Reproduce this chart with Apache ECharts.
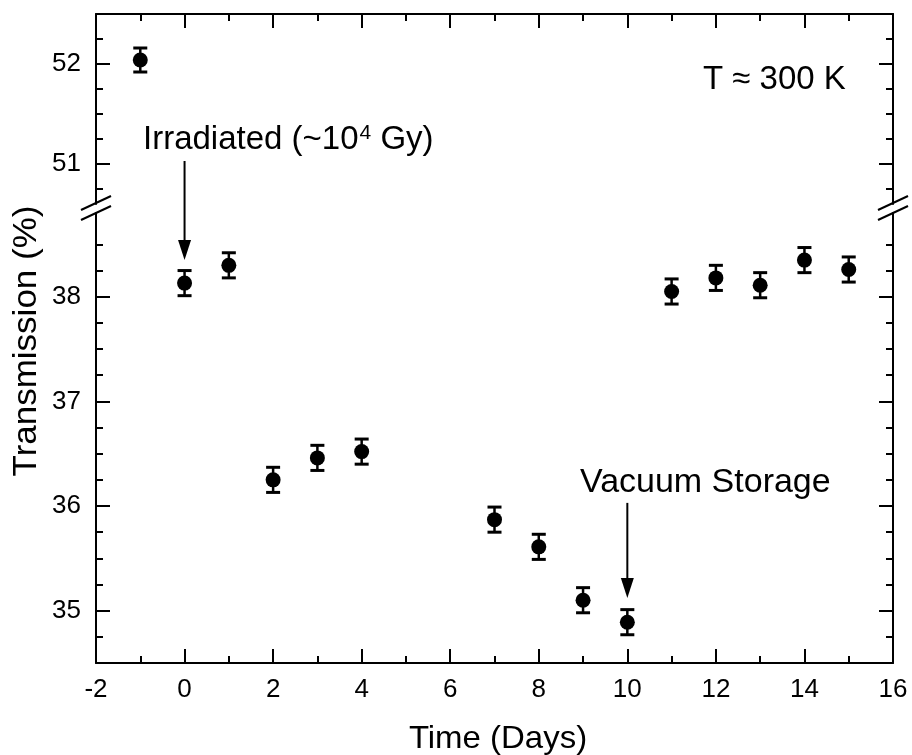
<!DOCTYPE html>
<html>
<head>
<meta charset="utf-8">
<script src="https://cdn.jsdelivr.net/npm/echarts@6/dist/echarts.min.js"></script>
<style>
  html, body { margin: 0; padding: 0; background: #fff; }
  #chart { width: 912px; height: 755px; }
</style>
</head>
<body>
<div id="chart"></div>
<script>
// Transmission measured over time, with a break in the y axis
const days = [-1, 0, 1, 2, 3, 4, 7, 8, 9, 10, 11, 12, 13, 14, 15];
const transmission = [52.04, 38.13, 38.30, 36.25, 36.46, 36.52, 35.87, 35.61, 35.10, 34.89, 38.05, 38.18, 38.11, 38.35, 38.26];
const errors = [0.12, 0.12, 0.12, 0.12, 0.12, 0.12, 0.12, 0.12, 0.12, 0.12, 0.12, 0.12, 0.12, 0.12, 0.12];

const xRange = [-2, 16];
const xMajorTicks = [-2, 0, 2, 4, 6, 8, 10, 12, 14, 16];
const xMinorTicks = [-1, 1, 3, 5, 7, 9, 11, 13, 15];

const upperRange = [50.6, 52.5];
const upperMajorTicks = [51, 52];
const upperMinorTicks = [50.75, 51.25, 51.5, 51.75, 52.25];

const lowerRange = [34.5, 38.8];
const lowerMajorTicks = [35, 36, 37, 38];
const lowerMinorTicks = [34.75, 35.25, 35.5, 35.75, 36.25, 36.5, 36.75, 37.25, 37.5, 37.75, 38.25, 38.5];

// Arrow annotations: day, start value, end value, panel of start, panel of end
const arrowDays = [0, 10];
const arrowStart = [51.03, 36.03];
const arrowEnd = [38.35, 35.12];
const arrowStartPanel = [0, 1];
const arrowEndPanel = [1, 1];

const FONT = "'Liberation Sans', Arial, Helvetica, sans-serif";
const BLACK = '#000';

// Layout of the two stacked panels (pixels)
const PLOT_LEFT = 96, PLOT_RIGHT = 893;
const UPPER_TOP = 14, UPPER_BOTTOM = 204;
const LOWER_TOP = 213, LOWER_BOTTOM = 663;
const W = 912;

const chart = echarts.init(document.getElementById('chart'), null, { renderer: 'canvas' });

function xAxisDef(gridIndex, position, ticks, tickLen, withLine, withLabels) {
  return {
    type: 'value', gridIndex, position,
    min: xRange[0], max: xRange[1],
    axisLine: { show: withLine, onZero: false, lineStyle: { color: BLACK, width: 2 } },
    axisTick: { show: true, inside: true, length: tickLen, customValues: ticks,
                lineStyle: { color: BLACK, width: 2 } },
    axisLabel: { show: withLabels, customValues: ticks, color: BLACK, fontSize: 26,
                 fontFamily: FONT, margin: 14 },
    splitLine: { show: false },
    minorTick: { show: false }
  };
}

function yAxisDef(gridIndex, position, range, ticks, tickLen, withLine, withLabels) {
  return {
    type: 'value', gridIndex, position,
    min: range[0], max: range[1],
    axisLine: { show: withLine, onZero: false, lineStyle: { color: BLACK, width: 2 } },
    axisTick: { show: true, inside: true, length: tickLen, customValues: ticks,
                lineStyle: { color: BLACK, width: 2 } },
    axisLabel: { show: withLabels, customValues: ticks, color: BLACK, fontSize: 26,
                 fontFamily: FONT, margin: 15 },
    splitLine: { show: false },
    minorTick: { show: false }
  };
}

const points = days.map((d, i) => [d, transmission[i], errors[i]]);
const upperPoints = points.filter(p => p[1] >= upperRange[0] && p[1] <= upperRange[1]);
const lowerPoints = points.filter(p => p[1] >= lowerRange[0] && p[1] <= lowerRange[1]);

function renderErrorBar(params, api) {
  const x = api.value(0), y = api.value(1), e = api.value(2);
  const top = api.coord([x, y + e]);
  const bot = api.coord([x, y - e]);
  const hw = 7;
  const stem = { stroke: BLACK, lineWidth: 2.5 };
  const cap = { stroke: BLACK, lineWidth: 3 };
  return {
    type: 'group',
    children: [
      { type: 'line', shape: { x1: top[0], y1: top[1], x2: bot[0], y2: bot[1] }, style: stem },
      { type: 'line', shape: { x1: top[0] - hw, y1: top[1], x2: top[0] + hw, y2: top[1] }, style: cap },
      { type: 'line', shape: { x1: bot[0] - hw, y1: bot[1], x2: bot[0] + hw, y2: bot[1] }, style: cap }
    ]
  };
}

const option = {
  backgroundColor: '#fff',
  animation: false,
  grid: [
    { left: PLOT_LEFT, right: W - PLOT_RIGHT, top: UPPER_TOP, height: UPPER_BOTTOM - UPPER_TOP,
      outerBoundsMode: 'none' },
    { left: PLOT_LEFT, right: W - PLOT_RIGHT, top: LOWER_TOP, height: LOWER_BOTTOM - LOWER_TOP,
      outerBoundsMode: 'none' }
  ],
  xAxis: [
    xAxisDef(0, 'top', xMajorTicks, 14, true, false),
    xAxisDef(0, 'top', xMinorTicks, 7, false, false),
    xAxisDef(1, 'bottom', xMajorTicks, 14, true, true),
    xAxisDef(1, 'bottom', xMinorTicks, 7, false, false)
  ],
  yAxis: [
    yAxisDef(0, 'left', upperRange, upperMajorTicks, 14, true, true),
    yAxisDef(0, 'left', upperRange, upperMinorTicks, 7, false, false),
    yAxisDef(0, 'right', upperRange, upperMajorTicks, 14, true, false),
    yAxisDef(0, 'right', upperRange, upperMinorTicks, 7, false, false),
    yAxisDef(1, 'left', lowerRange, lowerMajorTicks, 14, true, true),
    yAxisDef(1, 'left', lowerRange, lowerMinorTicks, 7, false, false),
    yAxisDef(1, 'right', lowerRange, lowerMajorTicks, 14, true, false),
    yAxisDef(1, 'right', lowerRange, lowerMinorTicks, 7, false, false)
  ],
  series: [
    { type: 'custom', xAxisIndex: 0, yAxisIndex: 0, data: upperPoints, renderItem: renderErrorBar, z: 3 },
    { type: 'custom', xAxisIndex: 2, yAxisIndex: 4, data: lowerPoints, renderItem: renderErrorBar, z: 3 },
    { type: 'scatter', xAxisIndex: 0, yAxisIndex: 0, data: upperPoints, symbol: 'circle', symbolSize: 15,
      itemStyle: { color: BLACK, opacity: 1 }, z: 4 },
    { type: 'scatter', xAxisIndex: 2, yAxisIndex: 4, data: lowerPoints, symbol: 'circle', symbolSize: 15,
      itemStyle: { color: BLACK, opacity: 1 }, z: 4 }
  ]
};

chart.setOption(option);

// Decorations: axis-break marks, arrows and text
const graphics = [];

function breakMark(cx, cy) {
  return { type: 'line', z: 10,
    shape: { x1: cx - 15, y1: cy + 7, x2: cx + 15, y2: cy - 7 },
    style: { stroke: BLACK, lineWidth: 2 } };
}
[PLOT_LEFT, PLOT_RIGHT].forEach(x => {
  graphics.push(breakMark(x, UPPER_BOTTOM - 1));
  graphics.push(breakMark(x, LOWER_TOP));
});

function panelPixel(panel, x, y) {
  return chart.convertToPixel({ xAxisIndex: panel === 0 ? 0 : 2, yAxisIndex: panel === 0 ? 0 : 4 }, [x, y]);
}

arrowDays.forEach((d, i) => {
  const p0 = panelPixel(arrowStartPanel[i], d, arrowStart[i]);
  const p1 = panelPixel(arrowEndPanel[i], d, arrowEnd[i]);
  const headLen = 20, headHalf = 6.5;
  graphics.push({ type: 'line', z: 10,
    shape: { x1: p0[0], y1: p0[1], x2: p1[0], y2: p1[1] - headLen + 2 },
    style: { stroke: BLACK, lineWidth: 2 } });
  graphics.push({ type: 'polygon', z: 10,
    shape: { points: [[p1[0] - headHalf, p1[1] - headLen], [p1[0] + headHalf, p1[1] - headLen], [p1[0], p1[1]]] },
    style: { fill: BLACK } });
});

// Text width helper for placing the superscript
const measureCtx = document.createElement('canvas').getContext('2d');
function textWidth(str, size) {
  measureCtx.font = size + 'px ' + FONT;
  return measureCtx.measureText(str).width;
}

function label(text, x, y, size, extra, scaleX) {
  return { type: 'text', z: 10, x, y, scaleX: scaleX || 1, scaleY: 1,
    style: Object.assign({ text, fill: BLACK, fontSize: size, fontFamily: FONT,
      align: 'left', verticalAlign: 'middle' }, extra || {}) };
}

// "Irradiated (~10^4 Gy)"
const irrX = 143, irrY = 140, irrSize = 33, supSize = 21;
const irrMain = 'Irradiated (~10';
const irrMainW = textWidth(irrMain, irrSize);
const supW = textWidth('4', supSize);
graphics.push(label(irrMain, irrX, irrY, irrSize));
graphics.push(label('4', irrX + irrMainW + 1, irrY - 7, supSize));
graphics.push(label(' Gy)', irrX + irrMainW + 1 + supW, irrY, irrSize));

graphics.push(label('T \u2248 300 K', 703, 80, 33));
graphics.push(label('Vacuum Storage', 580, 483, 33, null, 1.03));
graphics.push(label('Time (Days)', 498, 739, 32, { align: 'center' }, 1.03));
graphics.push({ type: 'text', z: 10, x: 27, y: 341, rotation: Math.PI / 2, scaleX: 1.06, scaleY: 1,
  style: { text: 'Transmission (%)', fill: BLACK, fontSize: 33, fontFamily: FONT,
           align: 'center', verticalAlign: 'middle' } });

chart.setOption({ graphic: graphics });
</script>
</body>
</html>
